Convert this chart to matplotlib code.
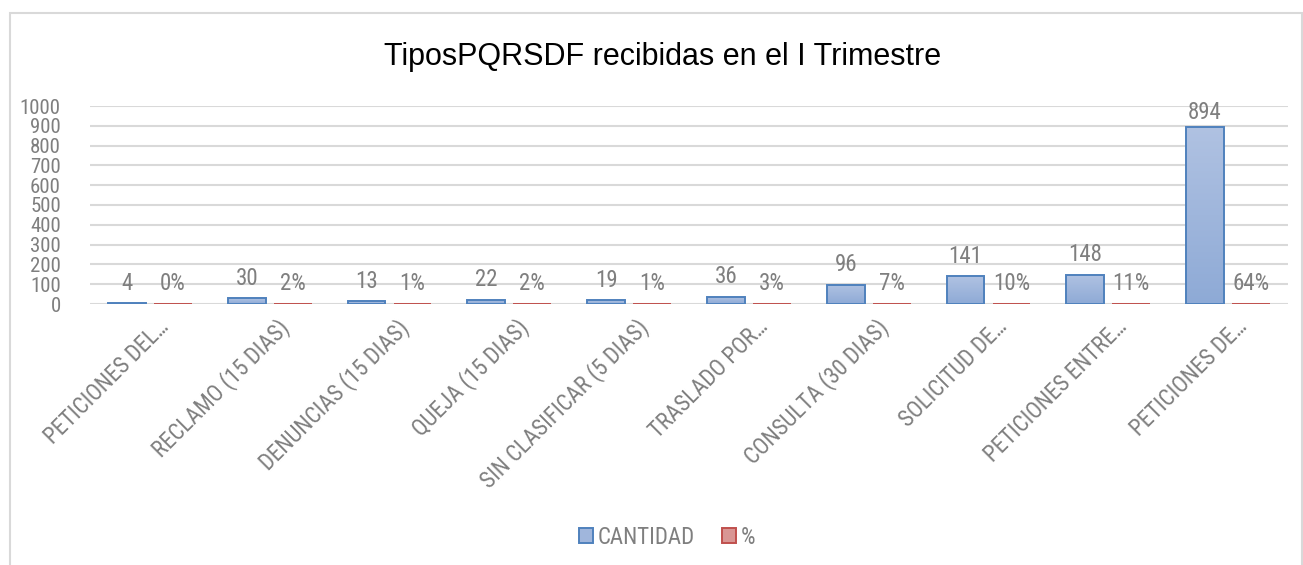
import numpy as np
import matplotlib
matplotlib.use("Agg")
import matplotlib.pyplot as plt
from matplotlib.patches import Rectangle, Patch
from matplotlib.transforms import ScaledTranslation

plt.rcParams['font.family'] = ['Roboto Condensed', 'Liberation Sans', 'DejaVu Sans']

categories = [
    "PETICIONES DEL…", "RECLAMO (15 DIAS)", "DENUNCIAS (15 DIAS)", "QUEJA (15 DIAS)",
    "SIN CLASIFICAR (5 DIAS)", "TRASLADO POR…", "CONSULTA (30 DIAS)", "SOLICITUD DE…",
    "PETICIONES ENTRE…", "PETICIONES DE…",
]
cantidad = [4, 30, 13, 22, 19, 36, 96, 141, 148, 894]
porcentaje = [0, 2, 1, 2, 1, 3, 7, 10, 11, 64]
y_ticks = list(range(0, 1001, 100))

GRAY = "#7f7f7f"
BLUE_EDGE = "#4f81bd"
RED_EDGE = "#c0504d"
RED_FILL = "#d99694"

fig = plt.figure(figsize=(13.03, 5.65), dpi=100)
W, H = 1303, 565

# chart border
fig.patches.append(Rectangle((10 / W, -0.1), (1302 - 10) / W, 1.1 - 13 / H,
                             transform=fig.transFigure, fill=False,
                             edgecolor="#d9d9d9", linewidth=1.5))

ax = fig.add_axes([90 / W, 1 - 304 / H, (1288 - 90) / W, (304 - 106) / H])
x = np.arange(len(categories))
bw = 0.317
off = 0.192

blue = ax.bar(x - off, cantidad, bw, facecolor="none", edgecolor=BLUE_EDGE,
              linewidth=1.4, zorder=3)
red = ax.bar(x + off, [p / 100 for p in porcentaje], bw, facecolor=RED_FILL,
             edgecolor=RED_EDGE, linewidth=1.4, zorder=3)

# gradient fill for blue bars
grad = np.linspace(0, 1, 256).reshape(-1, 1)
cmap = matplotlib.colors.LinearSegmentedColormap.from_list("g", ["#8eaad6", "#b0c2e2"])
for p in blue.patches:
    x0, y0 = p.get_x(), p.get_y()
    im = ax.imshow(grad, extent=(x0, x0 + p.get_width(), y0, y0 + p.get_height()),
                   origin="lower", aspect="auto", cmap=cmap, zorder=2)
    im.set_clip_path(p)

ax.set_xlim(-0.5, len(categories) - 0.5)
ax.set_ylim(0, 1000)
ax.set_yticks(y_ticks)
ax.yaxis.grid(True, color="#d9d9d9", linewidth=1.5)
ax.set_axisbelow(True)
for s in ax.spines.values():
    s.set_visible(False)
ax.tick_params(axis="both", length=0, colors=GRAY, labelsize=15)
ax.tick_params(axis="y", pad=21)
ax.set_xticks(x)
ax.set_xticklabels(categories, rotation=45, ha="right", va="top",
                   rotation_mode="anchor", fontsize=16.5, color=GRAY)
ax.tick_params(axis="x", pad=8)
shift = ScaledTranslation(0.07, 0, fig.dpi_scale_trans)
for lab in ax.get_xticklabels():
    lab.set_transform(lab.get_transform() + shift)

# data labels, kept inside the plot area
top_px = ax.transData.transform((0, 1000))[1]
for xi, v in zip(x, cantidad):
    bar_px = ax.transData.transform((0, v))[1]
    dy = min(13.5, top_px - 13 - bar_px)
    ax.annotate(str(v), xy=(xi - off, v), xytext=(0, dy), textcoords="offset pixels",
                ha="center", va="baseline", fontsize=16.5, color=GRAY)
for xi, p in zip(x, porcentaje):
    ax.annotate(f"{p}%", xy=(xi + off, p / 100), xytext=(0, 14), textcoords="offset pixels",
                ha="center", va="baseline", fontsize=16.5, color=GRAY)

fig.text(663 / W, 1 - 65 / H, "TiposPQRSDF recibidas en el I Trimestre", ha="center",
         va="baseline", fontsize=22, color="#000000", family="Liberation Sans")

handles = [Patch(facecolor="#a0b6dc", edgecolor=BLUE_EDGE, linewidth=1.4),
           Patch(facecolor=RED_FILL, edgecolor=RED_EDGE, linewidth=1.4)]
fig.legend(handles, ["CANTIDAD", "%"], loc="center", bbox_to_anchor=(667 / W, 1 - 537 / H),
           ncol=2, frameon=False, fontsize=16.5, labelcolor=GRAY, handlelength=0.6,
           handleheight=0.6, handletextpad=0.2, columnspacing=1.2)

fig.savefig("out.png", dpi=100)
